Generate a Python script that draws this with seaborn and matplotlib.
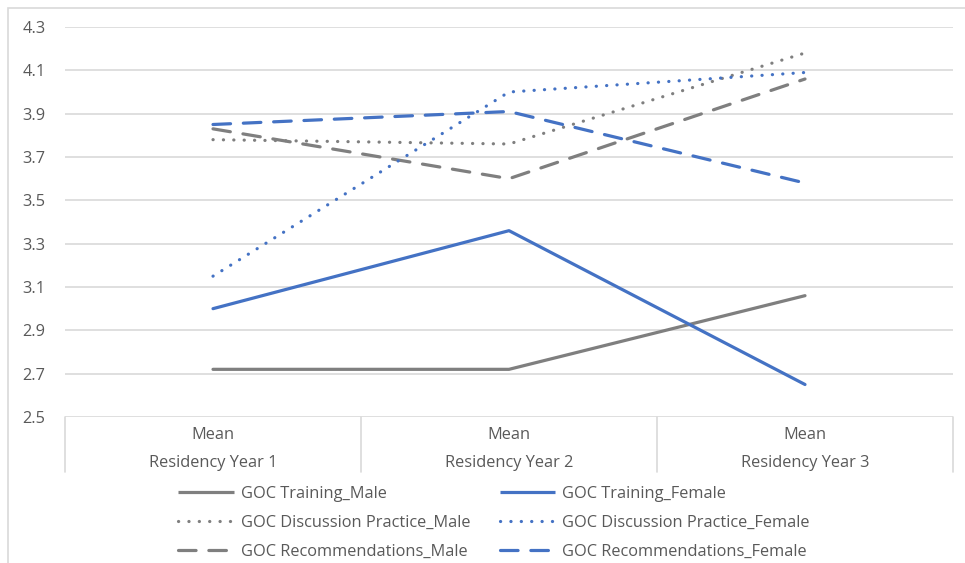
import matplotlib
matplotlib.use("Agg")
import matplotlib.pyplot as plt
from matplotlib.lines import Line2D
from matplotlib.patches import Rectangle
import seaborn as sns
import pandas as pd

# Data
years = ["Residency Year 1", "Residency Year 2", "Residency Year 3"]
stat_label = "Mean"
training_male = [2.72, 2.72, 3.06]
training_female = [3.00, 3.36, 2.65]
discussion_male = [3.78, 3.76, 4.18]
discussion_female = [3.15, 4.00, 4.09]
recommend_male = [3.83, 3.60, 4.06]
recommend_female = [3.85, 3.91, 3.58]
y_ticks = [2.5, 2.7, 2.9, 3.1, 3.3, 3.5, 3.7, 3.9, 4.1, 4.3]

GRAY = "#7f7f7f"
BLUE = "#4472c4"
TEXT = "#595959"
GRID = "#d9d9d9"
FS = 11.8

sns.set_theme(style="white")
plt.rcParams["font.family"] = ["Open Sans", "DejaVu Sans"]

W, H = 965, 563
fig = plt.figure(figsize=(W / 100, H / 100), dpi=100)
ax = fig.add_axes([65 / W, 1 - 417 / H, (953 - 65) / W, (417 - 27) / H])

dot = (0, (0.05, 3.2))
dash = (0, (5.5, 4))
series = [
    ("GOC Training_Male", training_male, GRAY, "-"),
    ("GOC Discussion Practice_Male", discussion_male, GRAY, dot),
    ("GOC Recommendations_Male", recommend_male, GRAY, dash),
    ("GOC Training_Female", training_female, BLUE, "-"),
    ("GOC Discussion Practice_Female", discussion_female, BLUE, dot),
    ("GOC Recommendations_Female", recommend_female, BLUE, dash),
]

x_pos = [0, 1, 2]
handles = []
for name, vals, color, ls in series:
    df = pd.DataFrame({"x": x_pos, "y": vals})
    sns.lineplot(data=df, x="x", y="y", ax=ax, color=color, linestyle=ls,
                 linewidth=2.3, dash_capstyle="round", solid_capstyle="round",
                 legend=False, zorder=3)
    handles.append(Line2D([0], [0], color=color, linestyle=ls, linewidth=2.3,
                          dash_capstyle="round", solid_capstyle="butt", label=name))

ax.set_xlim(-0.5, 2.5)
ax.set_ylim(2.5, 4.3)
ax.set_yticks(y_ticks)
ax.set_yticklabels([f"{t:.1f}" for t in y_ticks])
ax.tick_params(axis="y", length=0, pad=14, labelsize=FS, labelcolor=TEXT)
ax.set_xticks([])
ax.set_xlabel("")
ax.set_ylabel("")
for t in y_ticks:
    ax.axhline(t, color=GRID, linewidth=1.2, zorder=1)
for s in ax.spines.values():
    s.set_visible(False)

# Two-level category axis drawn as a table under the plot
box_bottom = (417 - 472) / 390
trans = ax.get_xaxis_transform()
for xb in [-0.5, 0.5, 1.5, 2.5]:
    ax.plot([xb, xb], [0, box_bottom], transform=trans, color=GRID,
            linewidth=1.2, clip_on=False)
for i, yr in enumerate(years):
    ax.text(i, (417 - 435) / 390, stat_label, transform=trans, ha="center",
            va="center", fontsize=FS, color=TEXT)
    ax.text(i, (417 - 463) / 390, yr, transform=trans, ha="center",
            va="center", fontsize=FS, color=TEXT)

# Legend in two columns below the chart
leg = fig.legend(handles=handles, ncol=2, loc="center left",
                 bbox_to_anchor=(178 / W, 1 - 523 / H), frameon=False,
                 fontsize=FS, labelcolor=TEXT, handlelength=3.4,
                 handletextpad=0.42, columnspacing=1.8, labelspacing=0.78,
                 borderaxespad=0, borderpad=0)

# Chart area outline
fig.patches.append(Rectangle((8 / W, -0.05), 1.1, 1 - 8 / H + 0.05,
                             transform=fig.transFigure, fill=False,
                             edgecolor=GRID, linewidth=1.2))

fig.savefig("out.png", dpi=100, facecolor="white")
